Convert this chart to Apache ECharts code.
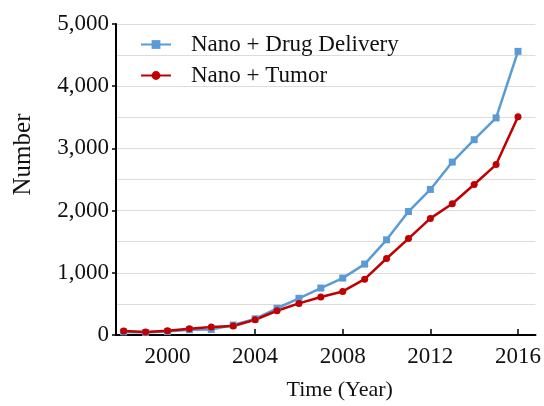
<!DOCTYPE html>
<html lang="en">
<head>
    <meta charset="UTF-8">
    <title>Nano publications</title>
    <script type="text/javascript" src="https://cdn.jsdelivr.net/npm/echarts@6/dist/echarts.min.js"></script>
    <style>body{margin:0;background:#fff}</style>
</head>
<body>
<div id="chartmain" style="width:544px;height:406px"></div>
<script>
    var years = [1998,1999,2000,2001,2002,2003,2004,2005,2006,2007,2008,2009,2010,2011,2012,2013,2014,2015,2016];
    var drugDelivery = [50,40,55,85,90,160,260,430,590,755,915,1140,1530,1985,2340,2780,3140,3490,4560];
    var tumor = [65,48,68,100,128,145,245,390,508,610,700,897,1230,1550,1875,2110,2420,2740,3510];
    var yearTicks = [2000,2004,2008,2012,2016];

    function pairs(vals){
        var out = [];
        for(var i=0;i<years.length;i++){
            out.push([years[i], vals[i]]);
        }
        return out;
    }

    var serif = '"Liberation Serif", "DejaVu Serif", serif';

    var option = {
        animation: false,
        textStyle: {fontFamily: serif},
        legend: {
            left: 135,
            top: 28,
            orient: 'vertical',
            itemGap: 8,
            itemWidth: 30,
            itemHeight: 11,
            textStyle: {fontFamily: serif, fontSize: 23, color: '#111', padding: [0,0,0,15]},
            data: ['Nano + Drug Delivery', 'Nano + Tumor']
        },
        grid: {left: 116, right: 5, top: 24, bottom: 70},
        xAxis: {
            type: 'value',
            min: 1997.65,
            max: 2016.8,
            name: 'Time (Year)',
            nameLocation: 'middle',
            nameGap: 44,
            nameTextStyle: {fontFamily: serif, fontSize: 22, color: '#111', padding: [0,0,0,28]},
            axisLine: {lineStyle: {color: '#000', width: 2}},
            axisTick: {show: true, inside: true, length: 6, customValues: yearTicks, lineStyle: {color: '#000', width: 1.5}},
            axisLabel: {
                customValues: yearTicks, fontFamily: serif, fontSize: 23, color: '#111', margin: 10,
                formatter: function(v){ return String(v); }
            },
            splitLine: {show: false}
        },
        yAxis: {
            type: 'value',
            min: 0,
            max: 5000,
            interval: 1000,
            name: 'Number',
            nameLocation: 'middle',
            nameGap: 80,
            nameTextStyle: {fontFamily: serif, fontSize: 25, color: '#111', padding: [0,0,0,50]},
            axisLine: {show: true, lineStyle: {color: '#000', width: 2}},
            axisTick: {show: true, length: 4, lineStyle: {color: '#000', width: 1.5}},
            axisLabel: {
                fontFamily: serif, fontSize: 23, color: '#111', margin: 7,
                formatter: function(v){ return v.toLocaleString('en-US'); }
            },
            splitLine: {show: true, lineStyle: {color: '#dcdcdc', width: 1}},
            minorTick: {show: false, splitNumber: 2},
            minorSplitLine: {show: true, lineStyle: {color: '#dcdcdc', width: 1}}
        },
        series: [
            {
                name: 'Nano + Drug Delivery',
                type: 'line',
                data: pairs(drugDelivery),
                symbol: 'rect',
                symbolSize: 7,
                lineStyle: {color: '#5b9bd5', width: 2.5},
                itemStyle: {color: '#5b9bd5'}
            },
            {
                name: 'Nano + Tumor',
                type: 'line',
                data: pairs(tumor),
                symbol: 'circle',
                symbolSize: 7,
                lineStyle: {color: '#c00000', width: 2.5},
                itemStyle: {color: '#c00000'}
            }
        ]
    };

    var myChart = echarts.init(document.getElementById('chartmain'));
    myChart.setOption(option);
</script>
</body>
</html>
